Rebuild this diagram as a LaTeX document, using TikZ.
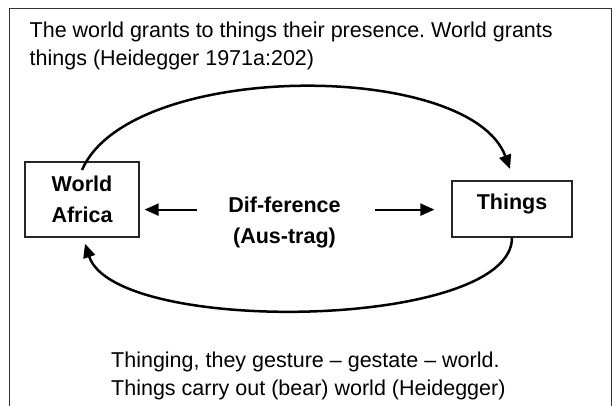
\documentclass[tikz,border=0pt]{standalone}
\usepackage{fontspec}
\setmainfont{Liberation Sans}
\usetikzlibrary{arrows.meta}
\frenchspacing

\begin{document}
\begin{tikzpicture}[
        x=1pt, y=-1pt,
        >={Triangle[length=14pt, width=12pt]},
        font=\fontsize{21.5}{28}\selectfont,
        txt/.style={anchor=base west, inner sep=0pt},
        bold/.style={font=\fontsize{21.5}{31}\selectfont\bfseries},
        box/.style={bold, draw=black!85, line width=1.2pt, align=center},
        arc/.style={->, line width=2.5pt},
        arr/.style={->, line width=2.2pt}
    ]
    \useasboundingbox (0,0) rectangle (615,406);

    % Рамка
    \draw[black!80, line width=1pt] (9,406) -- (9,9) -- (611.5,9) -- (611.5,406);

    % Верхний текст
    \node[txt] (top1) at (29.5,37.7) {The world grants to things their presence. World grants};
    \node[txt] (top2) at (29.5,65.7) {things (Heidegger 1971a:202)};

    % Блоки
    \node[box, minimum width=114pt, minimum height=75pt] (world) at (82,199.5) {World\\Africa};
    \node[box, minimum width=120pt, minimum height=56pt, text depth=15.5pt] (things) at (512,209) {Things};

    % Центр
    \node[bold, anchor=base, inner sep=0pt] (diff) at (284.5,212.3) {Dif-ference};
    \node[bold, anchor=base, inner sep=0pt] (aus) at (284.5,243.3) {(Aus-trag)};

    % Стрелки
    \coordinate (lrow) at ([yshift=-5pt]diff.west);
    \coordinate (rrow) at ([yshift=-5pt]diff.east);
    \draw[arr, shorten <=31pt, shorten >=5pt] (lrow) -- (world.east |- lrow);
    \draw[arr, shorten <=34pt, shorten >=17pt] (rrow) -- (things.west |- rrow);

    % Дуги
    \draw[arc] ([yshift=-8.5pt]world.north) .. controls (130,60) and (470,60) .. ([xshift=-2pt,yshift=11.5pt]things.north);
    \draw[arc] (things.south) .. controls (512,330) and (115,336) .. ([xshift=3pt,yshift=-6pt]world.south);

    % Нижний текст
    \node[txt] (bot1) at (111,367) {Thinging, they gesture -- gestate -- world.};
    \node[txt] (bot2) at (111,395) {Things carry out (bear) world (Heidegger)};

\end{tikzpicture}
\end{document}
